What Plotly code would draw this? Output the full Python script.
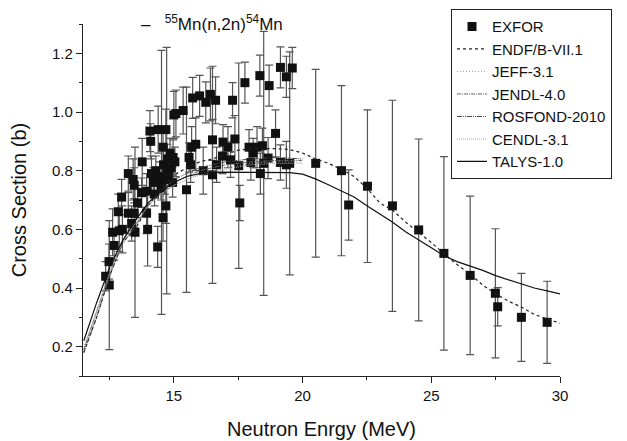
import plotly.graph_objects as go

# ---------------- data ----------------
exfor_e = [12.35, 12.49, 12.48, 12.62, 12.68, 12.84, 12.88, 12.97, 13.00,
           13.23, 13.23, 13.36, 13.42, 13.46, 13.46, 13.49, 13.59, 13.75, 13.77, 13.94,
           13.94, 13.98, 14.07, 14.10, 14.13, 14.20, 14.25, 14.30, 14.37, 14.39,
           14.45, 14.50, 14.52, 14.58, 14.58, 14.60, 14.65, 14.69, 14.69, 14.72,
           14.75, 14.80, 14.85, 14.90, 14.95, 14.97, 15.00, 15.04, 15.08, 15.36,
           15.49, 15.59, 15.65, 15.69, 15.73, 15.85, 16.00, 16.14, 16.24, 16.42,
           16.50, 16.50, 16.62, 16.66, 16.89, 16.91, 17.10, 17.20, 17.28, 17.37,
           17.52, 17.56, 17.76, 17.92, 17.99, 18.08, 18.23, 18.34, 18.36, 18.44,
           18.49, 18.66, 18.70, 18.95, 19.14, 19.14, 19.37, 19.37, 19.50, 19.60,
           20.51, 21.51, 21.79, 22.52, 23.49, 24.51, 25.49, 26.51, 27.49, 27.58,
           28.50, 29.50]
exfor_xs = [0.44, 0.41, 0.49, 0.59, 0.545, 0.66, 0.595, 0.71, 0.60,
            0.79, 0.655, 0.62, 0.77, 0.75, 0.655, 0.59, 0.69, 0.725, 0.83, 0.655,
            0.73, 0.60, 0.935, 0.90, 0.79, 0.76, 0.72, 0.80, 0.54, 0.94,
            0.78, 0.74, 0.76, 0.88, 0.64, 0.82, 0.77, 0.94, 0.68, 0.80,
            0.84, 0.79, 0.86, 0.81, 0.76, 0.845, 0.99, 0.83, 0.995, 1.005,
            0.735, 0.845, 0.82, 0.88, 1.048, 0.89, 1.055, 0.80, 1.033, 1.06,
            0.786, 0.905, 1.04, 0.82, 0.85, 0.897, 0.88, 0.837, 1.04, 0.908,
            0.817, 0.69, 1.10, 0.88, 0.828, 0.86, 0.88, 1.124, 0.79, 0.885,
            0.825, 0.843, 1.09, 0.927, 1.152, 0.828, 1.12, 0.82, 0.825, 1.15,
            0.825, 0.80, 0.683, 0.747, 0.68, 0.598, 0.518, 0.443, 0.382, 0.336,
            0.30, 0.283]
exfor_err = [0.05, 0.22, 0.06, 0.08, 0.05, 0.06, 0.07, 0.06, 0.08,
             0.06, 0.07, 0.06, 0.07, 0.06, 0.05, 0.29, 0.05, 0.05, 0.08, 0.07,
             0.06, 0.125, 0.07, 0.06, 0.06, 0.05, 0.04, 0.05, 0.07, 0.08,
             0.05, 0.04, 0.45, 0.07, 0.08, 0.05, 0.05, 0.07, 0.06, 0.42,
             0.05, 0.04, 0.05, 0.05, 0.05, 0.06, 0.08, 0.05, 0.08, 0.08,
             0.35, 0.05, 0.06, 0.07, 0.07, 0.09, 0.07, 0.08, 0.07, 0.09,
             0.37, 0.07, 0.08, 0.06, 0.06, 0.06, 0.07, 0.06, 0.06, 0.08,
             0.35, 0.06, 0.07, 0.06, 0.06, 0.05, 0.07, 0.07, 0.07, 0.06,
             0.45, 0.07, 0.07, 0.08, 0.07, 0.06, 0.07, 0.08, 0.38, 0.07,
             0.32, 0.29, 0.12, 0.26, 0.36, 0.31, 0.33, 0.27, 0.22, 0.065,
             0.15, 0.14]

eval_e = [11.5, 12.0, 12.5, 13.0, 13.5, 14.0, 14.5, 15.0, 15.5, 16.0, 16.5, 17.0,
          17.5, 18.0, 19.0, 19.5, 20.0, 20.5, 21.0, 21.5, 22.0, 22.5, 23.0, 23.5,
          24.0, 24.5, 25.0, 25.5, 26.0, 26.5, 27.0, 27.5, 28.0, 28.5, 29.0, 29.5, 30.0]
endf_xs = [0.18, 0.30, 0.44, 0.555, 0.60, 0.68, 0.74, 0.785, 0.81, 0.83, 0.84, 0.855,
           0.87, 0.875, 0.875, 0.872, 0.86, 0.84, 0.825, 0.805, 0.78, 0.74, 0.69, 0.665,
           0.625, 0.59, 0.555, 0.516, 0.48, 0.448, 0.41, 0.38, 0.355, 0.335, 0.31, 0.295, 0.28]
talys_xs = [0.22, 0.35, 0.47, 0.56, 0.63, 0.69, 0.73, 0.76, 0.78, 0.79, 0.795, 0.795,
            0.795, 0.795, 0.795, 0.793, 0.788, 0.772, 0.752, 0.732, 0.71, 0.68, 0.652, 0.624,
            0.592, 0.565, 0.54, 0.51, 0.49, 0.476, 0.46, 0.442, 0.428, 0.414, 0.40, 0.39, 0.38]

lib_e = [11.5, 12.0, 12.5, 13.0, 13.5, 14.0, 14.5, 15.0, 15.5, 16.0, 17.0, 18.0, 19.0, 20.0]
jeff_xs = [0.19, 0.31, 0.44, 0.55, 0.62, 0.68, 0.72, 0.75, 0.77, 0.79, 0.81, 0.825, 0.83, 0.83]
jendl_xs = [0.19, 0.32, 0.45, 0.56, 0.63, 0.69, 0.73, 0.76, 0.78, 0.80, 0.82, 0.83, 0.835, 0.835]
rosfond_xs = [0.18, 0.30, 0.44, 0.55, 0.61, 0.68, 0.73, 0.77, 0.79, 0.81, 0.83, 0.84, 0.845, 0.84]
cendl_xs = [0.20, 0.32, 0.45, 0.56, 0.62, 0.68, 0.72, 0.75, 0.77, 0.785, 0.805, 0.82, 0.825, 0.825]

FONT = "Arial, Liberation Sans, sans-serif"

fig = go.Figure()

fig.add_trace(go.Scatter(
    x=exfor_e, y=exfor_xs, mode="markers", name="EXFOR",
    marker=dict(symbol="square", size=9, color="#111111"),
    error_y=dict(type="data", array=exfor_err, visible=True,
                 color="#555555", thickness=1.2, width=4),
))

libs = [
    ("ENDF/B-VII.1", eval_e, endf_xs, dict(color="#222222", width=1.2, dash="3px,3px")),
    ("JEFF-3.1", lib_e, jeff_xs, dict(color="#999999", width=1, dash="1px,2px")),
    ("JENDL-4.0", lib_e, jendl_xs, dict(color="#666666", width=1, dash="4px,1px,1px,1px")),
    ("ROSFOND-2010", lib_e, rosfond_xs, dict(color="#444444", width=1, dash="5px,1px,1px,1px,1px,1px")),
    ("CENDL-3.1", lib_e, cendl_xs, dict(color="#aaaaaa", width=1, dash="1px,1px")),
    ("TALYS-1.0", eval_e, talys_xs, dict(color="#111111", width=1.2)),
]
for name, xe, ys, line in libs:
    fig.add_trace(go.Scatter(x=xe, y=ys, mode="lines", name=name, line=line))

fig.add_annotation(
    xref="paper", yref="paper", x=0.118, y=1.003, xanchor="left", yanchor="middle",
    text="–   <sup>55</sup>Mn(n,2n)<sup>54</sup>Mn", showarrow=False,
    font=dict(family=FONT, size=17, color="#111111"),
)

# the page adds an 8 px body margin, so the figure is 8 px smaller and the margins compensate
fig.update_layout(
    width=619, height=433,
    paper_bgcolor="white", plot_bgcolor="white",
    margin=dict(l=75, r=67, t=16, b=65, autoexpand=False),
    font=dict(family=FONT, color="#111111"),
    showlegend=True,
    legend=dict(x=0.7715, y=1.042, xanchor="left", yanchor="top",
                bordercolor="#222222", borderwidth=1, bgcolor="white",
                font=dict(family=FONT, size=15, color="#111111"),
                tracegroupgap=0),
)
fig.update_xaxes(
    range=[11.47, 30], showgrid=False, zeroline=False, automargin=False,
    showline=True, linecolor="#222222", linewidth=1.2,
    ticks="outside", ticklen=6, tickwidth=1, tickcolor="#222222",
    tick0=0, dtick=5, tickfont=dict(size=15),
    minor=dict(ticks="outside", ticklen=3, tickcolor="#222222", dtick=2.5, tick0=0),
    title=dict(text="Neutron Enrgy (MeV)", font=dict(size=20), standoff=18),
)
fig.update_yaxes(
    range=[0.1, 1.3], showgrid=False, zeroline=False, automargin=False,
    showline=True, linecolor="#222222", linewidth=1.2,
    ticks="outside", ticklen=6, tickwidth=1, tickcolor="#222222",
    tick0=0, dtick=0.2, tickformat=".1f", tickfont=dict(size=15),
    minor=dict(ticks="outside", ticklen=3, tickcolor="#222222", dtick=0.1, tick0=0),
    title=dict(text="Cross Section (b)", font=dict(size=20), standoff=27),
)

fig.write_html("out.html")
